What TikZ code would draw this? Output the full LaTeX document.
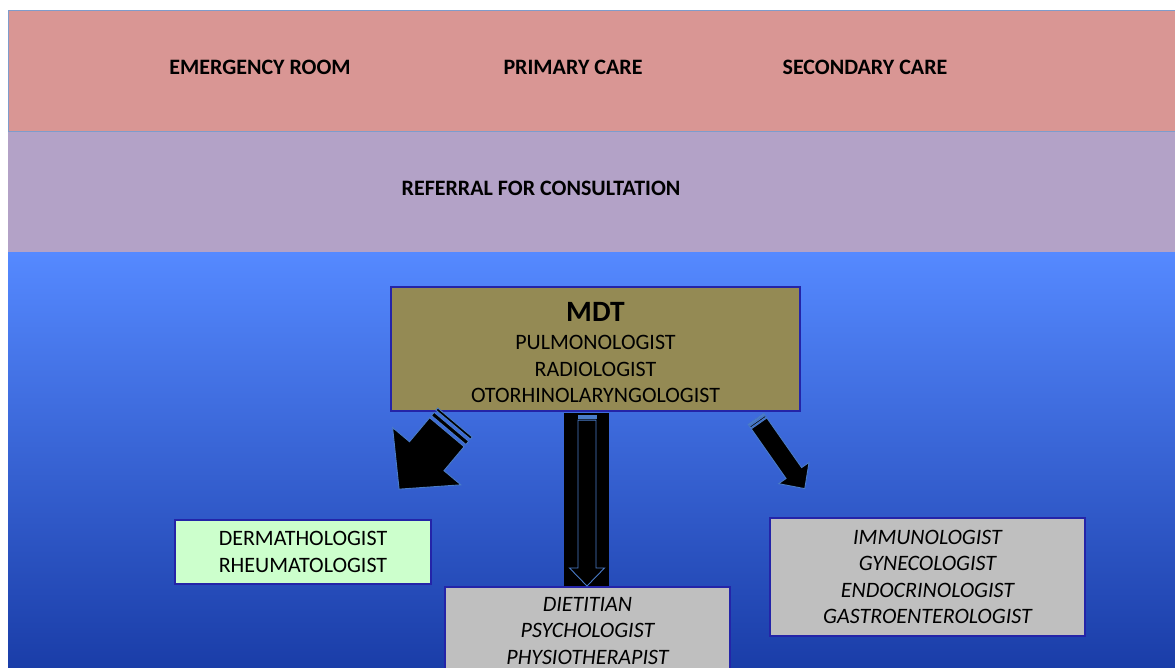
\documentclass[tikz,border=0pt]{standalone}
\usepackage{fontspec}
\setmainfont{Carlito}
\usetikzlibrary{positioning}

\definecolor{bandpink}{HTML}{D99694}
\definecolor{bandlilac}{HTML}{B3A2C7}
\definecolor{bandline}{HTML}{7F9CCB}
\definecolor{bluetop}{HTML}{5589FF}
\definecolor{bluebottom}{HTML}{1A3DA8}
\definecolor{mdtfill}{HTML}{948A54}
\definecolor{mintfill}{HTML}{CCFFCC}
\definecolor{greyfill}{HTML}{BFBFBF}
\definecolor{boxline}{HTML}{2424A8}
\definecolor{arrowline}{HTML}{4A7CC8}

\tikzset{
    pics/stripearrow/.style args={#1/#2/#3/#4}{code={
        % stripes at the tail, then the body with its head
        \filldraw[arrowpart] (0,-#2) rectangle ({#2/8},#2);
        \filldraw[arrowpart] ({#2/4},-#2) rectangle ({#2*3.5/8},#2);
        \filldraw[arrowpart] ({#2*4.5/8},-#2) -- ({#1-#4},-#2) -- ({#1-#4},-#3)
            -- (#1,0) -- ({#1-#4},#3) -- ({#1-#4},#2) -- ({#2*4.5/8},#2) -- cycle;
    }}
}

\begin{document}
\begin{tikzpicture}[
        x=1pt, y=-1pt,
        bandlabel/.style={font=\fontsize{22}{26}\selectfont\bfseries},
        teambox/.style={rectangle, draw=boxline, line width=1.2pt, align=center, inner sep=0pt, font=\fontsize{22}{26.3}\selectfont},
        arrowpart/.style={fill=black, draw=arrowline, line width=0.9pt, line join=miter}
    ]
    \useasboundingbox (0,0) rectangle (1175,668);
    \clip (0,0) rectangle (1175,668);

    % bands
    \fill[white] (0,0) rectangle (1175,668);
    \filldraw[fill=bandpink, draw=bandline, line width=1pt] (8,11) rectangle (1180,132);
    \fill[bandlilac] (8,132.5) rectangle (1180,253);
    \shade[top color=bluetop, bottom color=bluebottom] (8,253) rectangle (1180,668);

    \node (er) [bandlabel] at (260,67) {EMERGENCY ROOM};
    \node (pc) [bandlabel] at (573,67) {PRIMARY CARE};
    \node (sc) [bandlabel] at (865,67) {SECONDARY CARE};
    \node (referral) [bandlabel] at (541,188) {REFERRAL FOR CONSULTATION};

    % teams
    \node (mdt) [teambox, fill=mdtfill, minimum width=409, minimum height=124] at (595.5,349)
        {{\fontsize{29.5}{31}\selectfont\bfseries\rule{0pt}{26pt}MDT}\\[2pt]PULMONOLOGIST\\RADIOLOGIST\\OTORHINOLARYNGOLOGIST};
    \node (derm) [teambox, fill=mintfill, minimum width=256, minimum height=64] at (303,552)
        {DERMATHOLOGIST\\RHEUMATOLOGIST};
    \node (diet) [teambox, fill=greyfill, minimum width=285, minimum height=88, font=\fontsize{22}{26.3}\selectfont\itshape] at (587.5,631)
        {DIETITIAN\\PSYCHOLOGIST\\PHYSIOTHERAPIST};
    \node (immuno) [teambox, fill=greyfill, minimum width=315, minimum height=118, font=\fontsize{22}{26.3}\selectfont\itshape] at (927.5,577)
        {IMMUNOLOGIST\\GYNECOLOGIST\\ENDOCRINOLOGIST\\GASTROENTEROLOGIST};

    % block arrows
    \fill (564,413) rectangle (609,586);
    \pic[rotate=230] at (455,422.5) {stripearrow={87/22.5/44.5/43}};
    \pic[rotate=-90] at (587,415) {stripearrow={171/9/17.5/18}};
    \pic[rotate=-55] at (756,419) {stripearrow={85/9.5/18.5/19}};

\end{tikzpicture}
\end{document}
